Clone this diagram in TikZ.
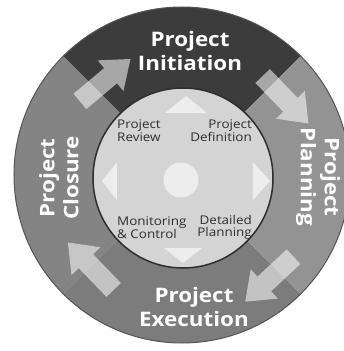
\documentclass[tikz,border=0pt]{standalone}
\usepackage{fontspec}
\setmainfont[FakeStretch=1.12]{Open Sans}

\definecolor{initgray}{HTML}{3C3C3C}
\definecolor{plangray}{HTML}{939393}
\definecolor{execgray}{HTML}{7C7C7C}
\definecolor{closgray}{HTML}{848484}
\definecolor{rimgray}{HTML}{555555}
\definecolor{diskgray}{HTML}{D4D4D4}
\definecolor{hubgray}{HTML}{EDEDED}
\definecolor{stepgray}{HTML}{2E2E2E}

\tikzset{
  phaselabel/.style={white, align=center, font=\fontsize{20}{24}\selectfont\bfseries},
  steplabel/.style={stepgray, font=\fontsize{12}{11.5}\selectfont, inner sep=0}
}

\begin{document}
\begin{tikzpicture}[x=1pt,y=1pt]
      \useasboundingbox (-182,-176) rectangle (161,175);
      \def \Segments {
        45/135/initgray,
        135/225/closgray,
        225/315/execgray,
        -45/45/plangray}
      \def \Arrows {
        129/122/40,
        36/128/-46,
        -50/136/223,
        225/129/134}
      \def \Pointers {
        -17/62/25/62/4/79,
        -18/-73/20/-73/1/-88,
        -65/13/-65/-25/-80/-6,
        71/13/71/-25/88/-6}

      % outer ring
      \foreach \a / \b / \c in \Segments {
        \fill[\c] (0,0) -- (\a:168) arc[start angle=\a, end angle=\b, radius=168] -- cycle;
      }
      \draw[rimgray, line width=1] (0,0) circle (168);
      \foreach \p / \r / \d in \Arrows {
        \fill[white, fill opacity=0.55, shift={(\p:\r)}, rotate=\d]
          (-33,-10) -- (7,-10) -- (7,-20) -- (33,0) -- (7,20) -- (7,10) -- (-33,10) -- cycle;
      }

      % inner disk
      \node[circle, draw=stepgray, line width=1.5, fill=diskgray, minimum size=180, inner sep=0] (disk) at (1,-3) {};
      \node[circle, fill=hubgray, minimum size=35, inner sep=0] (hub) at (-1,-5) {};
      \foreach \ax / \ay / \bx / \by / \cx / \cy in \Pointers {
        \fill[hubgray] (\ax,\ay) -- (\bx,\by) -- (\cx,\cy) -- cycle;
      }

      \node[steplabel, anchor=west, align=left] (review) at (-65,44.5) {Project\\Review};
      \node[steplabel, anchor=east, align=right] (definition) at (70,44.5) {Project\\Definition};
      \node[steplabel, anchor=west, align=left] (monitoring) at (-65,-52.5) {Monitoring\\\& Control};
      \node[steplabel, anchor=east, align=right] (detailed) at (70,-52.5) {Detailed\\Planning};

      \node[phaselabel] (initiation) at (8,124) {Project\\Initiation};
      \node[phaselabel, rotate=-90] (planning) at (136,-2) {Project\\Planning};
      \node[phaselabel] (execution) at (12,-132) {Project\\Execution};
      \node[phaselabel, rotate=90] (closure) at (-123,-3) {Project\\Closure};
    \end{tikzpicture}
\end{document}
